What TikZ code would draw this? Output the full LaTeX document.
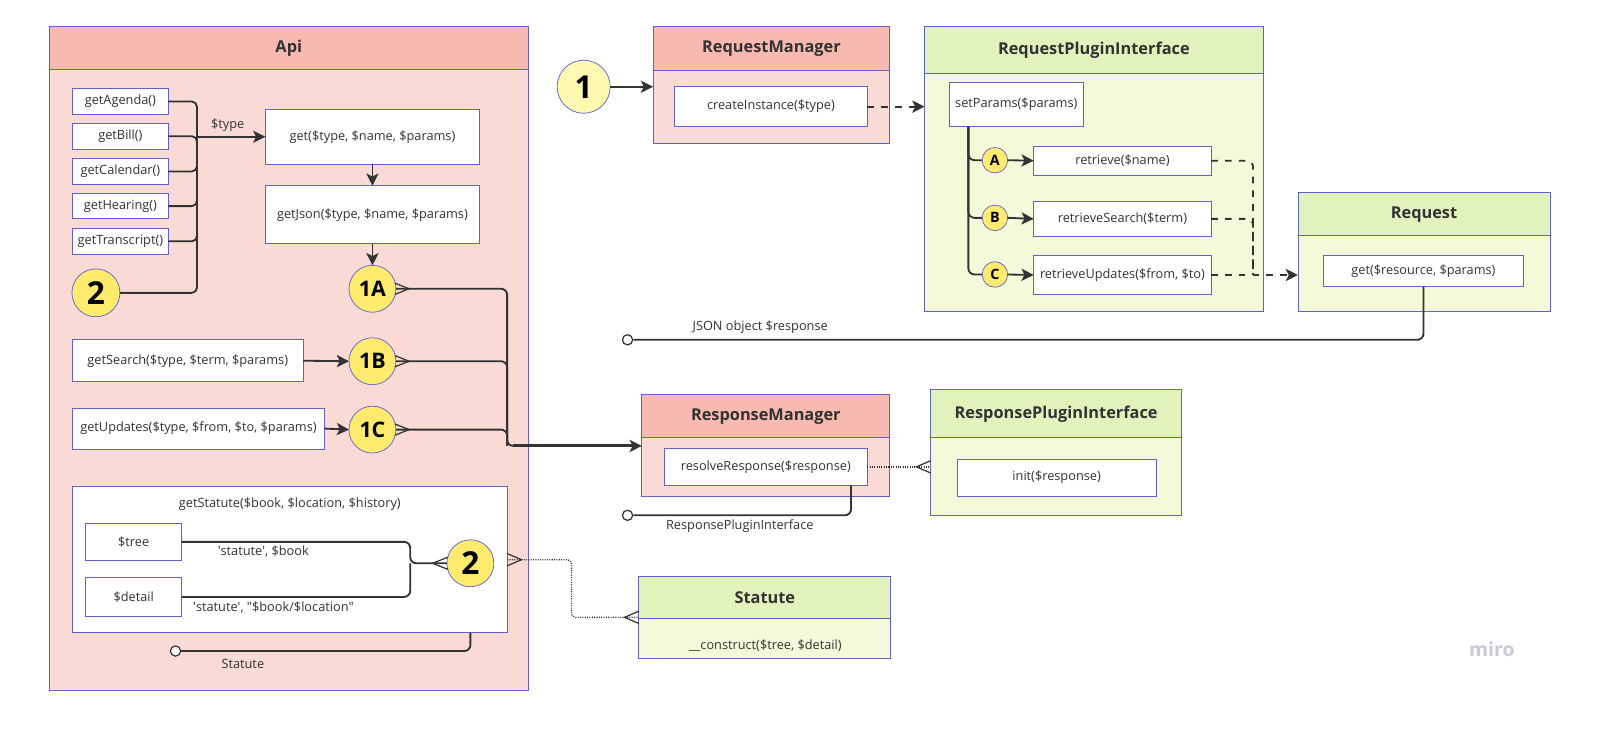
\documentclass[tikz,border=0pt]{standalone}
\usepackage{fontspec}
\setmainfont{Open Sans}
\usetikzlibrary{arrows.meta,calc}
\definecolor{bord}{RGB}{96,96,206}
\definecolor{redhead}{RGB}{248,185,176}
\definecolor{redbody}{RGB}{250,218,213}
\definecolor{greenhead}{RGB}{225,242,189}
\definecolor{greenbody}{RGB}{244,250,217}
\definecolor{yel}{RGB}{254,235,110}
\definecolor{lyel}{RGB}{255,249,177}
\definecolor{lin}{RGB}{51,51,51}
\definecolor{txt}{RGB}{50,50,50}
\definecolor{mirogray}{RGB}{200,200,214}
\newcommand\fs{\fontsize{12.5}{14}\selectfont}
\begin{document}
\begin{tikzpicture}[x=1pt,y=-1pt,
  box/.style={draw=bord, line width=0.8pt, fill=white, inner sep=0pt, outer sep=0pt, font=\fs, text=txt, align=center},
  rbody/.style={draw=bord, fill=redbody, line width=0.9pt, inner sep=0pt, outer sep=0pt},
  rhead/.style={draw=bord, fill=redhead, line width=0.9pt, inner sep=0pt, outer sep=0pt, font=\bfseries\fontsize{16}{18}\selectfont, text=txt},
  gbody/.style={draw=bord, fill=greenbody, line width=0.9pt, inner sep=0pt, outer sep=0pt},
  ghead/.style={draw=bord, fill=greenhead, line width=0.9pt, inner sep=0pt, outer sep=0pt, font=\bfseries\fontsize{16}{18}\selectfont, text=txt},
  ycirc/.style={circle, draw=bord, fill=yel, line width=0.7pt, inner sep=0pt, outer sep=0pt, text=black},
  conn/.style={draw=lin, line width=1.8pt},
  arr/.style={-{Stealth[length=12pt,width=12pt,inset=3pt]}},
  dashline/.style={dash pattern=on 6.5pt off 7pt},
  dotline/.style={dash pattern=on 1pt off 1.3pt, line width=1.3pt},
  ocirc/.style={circle, draw=lin, fill=white, line width=1.2pt, minimum size=10pt, inner sep=0pt},
  lbl/.style={font=\fs, text=txt, inner sep=0pt}
]
\useasboundingbox (0,0) rectangle (1568,735);
\fill[white] (0,0) rectangle (1568,735);

% ===== Api container =====
\node[rbody, minimum width=470pt, minimum height=651pt] (api) at (283,351.5) {};
\node[rhead, minimum width=470pt, minimum height=42pt] (apih) at (283,47) {Api};

\node[box, minimum width=94pt, minimum height=25pt] (agenda) at (118,99.5) {getAgenda()};
\node[box, minimum width=94pt, minimum height=25pt] (bill) at (118,133.5) {getBill()};
\node[box, minimum width=94pt, minimum height=25pt] (cal) at (118,168) {getCalendar()};
\node[box, minimum width=94pt, minimum height=25pt] (hear) at (118,202) {getHearing()};
\node[box, minimum width=94pt, minimum height=25pt] (trans) at (118,236.5) {getTranscript()};
\node[ycirc, minimum size=47pt, font=\bfseries\fontsize{31}{33}\selectfont] (c2a) at (94,287) {2};

\node[box, minimum width=210pt, minimum height=54pt] (get) at (365,134) {get(\$type, \$name, \$params)};
\node[box, minimum width=210pt, minimum height=57pt] (json) at (365,210.5) {getJson(\$type, \$name, \$params)};
\node[ycirc, minimum size=46pt, font=\bfseries\fontsize{21}{23}\selectfont] (c1a) at (365,283) {1A};

\node[box, minimum width=226pt, minimum height=41pt] (search) at (184,353.5) {getSearch(\$type, \$term, \$params)};
\node[ycirc, minimum size=46pt, font=\bfseries\fontsize{21}{23}\selectfont] (c1b) at (365,354) {1B};
\node[box, minimum width=247pt, minimum height=40pt] (upd) at (194.5,420) {getUpdates(\$type, \$from, \$to, \$params)};
\node[ycirc, minimum size=46pt, font=\bfseries\fontsize{21}{23}\selectfont] (c1c) at (365,421) {1C};

\node[box, minimum width=426pt, minimum height=143pt] (stat) at (284,548.5) {};
\node[lbl] (stattitle) at (284,494) {getStatute(\$book, \$location, \$history)};
\node[box, minimum width=94pt, minimum height=36pt] (tree) at (131,531) {\$tree};
\node[box, minimum width=94pt, minimum height=38pt] (detail) at (131,585) {\$detail};
\node[ycirc, minimum size=46pt, font=\bfseries\fontsize{31}{33}\selectfont] (c2b) at (461,552) {2};

% ===== RequestManager =====
\node[ycirc, fill=lyel, minimum size=52pt, font=\bfseries\fontsize{31}{33}\selectfont] (c1) at (572,85) {1};
\node[rbody, minimum width=232pt, minimum height=115pt] (rm) at (756,83.5) {};
\node[rhead, minimum width=232pt, minimum height=43pt] (rmh) at (756,47.5) {RequestManager};
\node[box, minimum width=189pt, minimum height=39pt] (create) at (755.5,104.5) {createInstance(\$type)};

% ===== RequestPluginInterface =====
\node[gbody, minimum width=332pt, minimum height=279pt] (rpi) at (1072,165.5) {};
\node[ghead, minimum width=332pt, minimum height=46pt] (rpih) at (1072,49) {RequestPluginInterface};
\node[box, minimum width=132pt, minimum height=43pt] (setp) at (996,102.5) {setParams(\$params)};
\node[ycirc, minimum size=25pt, font=\bfseries\fontsize{14}{16}\selectfont] (cA) at (975,157) {A};
\node[ycirc, minimum size=25pt, font=\bfseries\fontsize{14}{16}\selectfont] (cB) at (975,213.5) {B};
\node[ycirc, minimum size=25pt, font=\bfseries\fontsize{14}{16}\selectfont] (cC) at (975,269) {C};
\node[box, minimum width=174pt, minimum height=29pt] (ret) at (1100,157.5) {retrieve(\$name)};
\node[box, minimum width=174pt, minimum height=35pt] (rets) at (1100,214.5) {retrieveSearch(\$term)};
\node[box, minimum width=174pt, minimum height=39pt] (retu) at (1100,269.5) {retrieveUpdates(\$from, \$to)};

% ===== Request =====
\node[gbody, minimum width=247pt, minimum height=116pt] (req) at (1395.5,247) {};
\node[ghead, minimum width=247pt, minimum height=42pt] (reqh) at (1395.5,210) {Request};
\node[box, minimum width=196pt, minimum height=31pt] (rget) at (1395,265.5) {get(\$resource, \$params)};

% ===== ResponseManager =====
\node[rbody, minimum width=243pt, minimum height=100pt] (rsm) at (750.5,437) {};
\node[rhead, minimum width=243pt, minimum height=42pt] (rsmh) at (750.5,408) {ResponseManager};
\node[box, minimum width=199pt, minimum height=37pt] (resolve) at (750.5,457.5) {resolveResponse(\$response)};

% ===== ResponsePluginInterface =====
\node[gbody, minimum width=246pt, minimum height=123pt] (rspi) at (1035,443.5) {};
\node[ghead, minimum width=246pt, minimum height=47pt] (rspih) at (1035,405.5) {ResponsePluginInterface};
\node[box, minimum width=195pt, minimum height=36pt] (init) at (1035.5,468) {init(\$response)};

% ===== Statute =====
\node[gbody, minimum width=247pt, minimum height=80pt] (st) at (749.5,605) {};
\node[ghead, minimum width=247pt, minimum height=41pt] (sth) at (749.5,585.5) {Statute};
\node[lbl] (stc) at (750,633) {\_\_construct(\$tree, \$detail)};

% ===== connectors: Api =====
\coordinate (bus) at (193,134);
\foreach \n in {agenda,bill,cal,hear,trans,c2a}
  \draw[conn, rounded corners=5pt] (\n.east) -| (bus);
\draw[conn, arr] (bus) -- (get.west) node[lbl, pos=0.45, above=4pt] (typelbl) {\$type};
\draw[conn, arr] (get.south) -- (json.north);
\draw[conn, arr] (json.south) -- (c1a.north);
\draw[conn, arr] (search.east) -- (c1b.west);
\draw[conn, arr] (upd.east) -- (c1c.west);

\coordinate (m) at (497,437);
\coordinate (m2) at (503,437);
\draw[conn, rounded corners=6pt] (c1a.east) -| (m) -- (m2);
\draw[conn, rounded corners=6pt] (c1b.east) -| (m);
\draw[conn, rounded corners=6pt] (c1c.east) -| (m);
\draw[conn, line width=2.8pt, arr] (m2) -- (rsm.west);
\foreach \n in {c1a,c1b,c1c}
  \draw[conn, line width=1.2pt] ($(\n.east)+(-1,-5.5)$) -- ($(\n.east)+(13,0)$) -- ($(\n.east)+(-1,5.5)$);

% getStatute inner
\coordinate (j) at (402,552);
\draw[conn, rounded corners=6pt] (tree.east) -| (j) -- (c2b.west);
\draw[conn, rounded corners=6pt] (detail.east) -| (j);
\draw[conn, line width=1.2pt] ($(c2b.west)+(1,-6)$) -- ($(c2b.west)+(-14,0)$) -- ($(c2b.west)+(1,6)$);
\node[lbl] (l1) at (258,540) {\textquotesingle statute\textquotesingle, \$book};
\node[lbl] (l2) at (268,595) {\textquotesingle statute\textquotesingle, \textquotedbl\$book/\$location\textquotedbl};

% getStatute -> Statute (dotted)
\coordinate (sd) at (560,605);
\draw[draw=lin, dotline, rounded corners=4pt] (stat.east) -| (sd) -- (st.west);
\draw[conn, line width=1.2pt] ($(stat.east)+(0,-6)$) -- ($(stat.east)+(14,0)$) -- ($(stat.east)+(0,6)$);
\draw[conn, line width=1.2pt] ($(st.west)+(0,-6)$) -- ($(st.west)+(-14,0)$) -- ($(st.west)+(0,6)$);

% getStatute -> Statute lollipop
\node[ocirc] (oc1) at (172,638) {};
\draw[conn, rounded corners=6pt] (c2b |- stat.south) |- (oc1.east);
\node[lbl] (l3) at (238,651) {Statute};

% ===== connectors: Request side =====
\draw[conn, arr] (c1.east) -- (rm.west |- c1.east);
\draw[conn, dashline, arr] (create.east) -- (rpi.west |- create.east);

\coordinate (vt) at ($(setp.south west)+(19,0)$);
\draw[conn, rounded corners=6pt] (vt) |- (cA.west);
\draw[conn, rounded corners=6pt] (vt) |- (cB.west);
\draw[conn, rounded corners=6pt] (vt) |- (cC.west);
\draw[conn, arr] (cA.east) -- (ret.west);
\draw[conn, arr] (cB.east) -- (rets.west);
\draw[conn, arr] (cC.east) -- (retu.west);

\coordinate (dv) at (1228,269.5);
\draw[conn, dashline, rounded corners=6pt] (ret.east) -| (dv);
\draw[conn, dashline, rounded corners=6pt] (rets.east) -| (dv);
\draw[conn, dashline, arr] (retu.east) -- (req.west |- retu.east);

\node[ocirc] (oc2) at (615,333) {};
\draw[conn, rounded corners=6pt] (rget.south) |- (oc2.east);
\node[lbl] (l4) at (745,321) {JSON object \$response};

% ===== connectors: Response side =====
\draw[draw=lin, dotline] (resolve.east) -- (rspi.west |- resolve.east);
\draw[conn, line width=1.2pt] ($(rspi.west |- resolve.east)+(0,-6)$) -- ($(rspi.west |- resolve.east)+(-14,0)$) -- ($(rspi.west |- resolve.east)+(0,6)$);

\node[ocirc] (oc3) at (615,505) {};
\draw[conn, rounded corners=6pt] ($(resolve.south east)+(-16,0)$) |- (oc3.east);
\node[lbl] (l5) at (725,516) {ResponsePluginInterface};

% miro logo
\node[font=\bfseries\fontsize{19}{21}\selectfont, text=mirogray] (miro) at (1462,636) {miro};
\end{tikzpicture}
\end{document}
